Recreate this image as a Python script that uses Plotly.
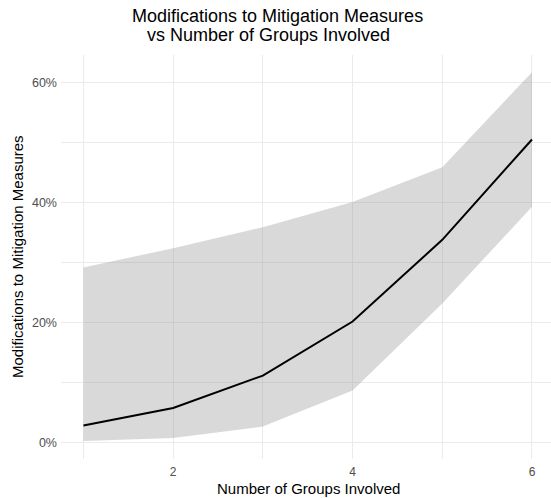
import plotly.graph_objects as go

groups = [1, 2, 3, 4, 5, 6]
mean_mod = [0.029, 0.058, 0.112, 0.202, 0.338, 0.505]
lower_mod = [0.003, 0.008, 0.027, 0.087, 0.232, 0.393]
upper_mod = [0.292, 0.324, 0.359, 0.401, 0.459, 0.617]

title_line1 = "Modifications to Mitigation Measures"
title_line2 = "vs Number of Groups Involved"
x_title = "Number of Groups Involved"
y_title = "Modifications to Mitigation Measures"

FONT = "Liberation Sans, Arial, sans-serif"
W, H = 551, 498
ML, MR, MT, MB = 61, 0, 54.5, 38.5
PW = W - ML - MR
PH = H - MT - MB

fig = go.Figure()
fig.add_trace(go.Scatter(x=groups, y=lower_mod, mode="lines",
                         line=dict(width=0), hoverinfo="skip", showlegend=False))
fig.add_trace(go.Scatter(x=groups, y=upper_mod, mode="lines", fill="tonexty",
                         fillcolor="rgba(153,153,153,0.37)",
                         line=dict(width=0), hoverinfo="skip", showlegend=False))
fig.add_trace(go.Scatter(x=groups, y=mean_mod, mode="lines",
                         line=dict(color="black", width=2), showlegend=False))

grid = "#EBEBEB"
fig.update_layout(
    width=W, height=H,
    margin=dict(l=ML, r=MR, t=MT, b=MB, autoexpand=False),
    paper_bgcolor="white", plot_bgcolor="white",
    font=dict(family=FONT, color="black"),
    xaxis=dict(range=[0.75, 6.212], tickmode="array", tickvals=[2, 4, 6],
               ticktext=["2", "4", "6"], showgrid=True, gridcolor=grid, gridwidth=1,
               minor=dict(showgrid=True, gridcolor=grid, gridwidth=0.8,
                          tickmode="array", tickvals=[1, 3, 5]),
               zeroline=False, showline=False, ticks="",
               ticklabelstandoff=4,
               tickfont=dict(size=12, color="#4D4D4D", family=FONT)),
    yaxis=dict(range=[-0.0269, 0.6457], tickmode="array",
               tickvals=[0, 0.2, 0.4, 0.6], ticktext=["0%", "20%", "40%", "60%"],
               showgrid=True, gridcolor=grid, gridwidth=1,
               minor=dict(showgrid=True, gridcolor=grid, gridwidth=0.8,
                          tickmode="array", tickvals=[0.1, 0.3, 0.5]),
               zeroline=False, showline=False, ticks="",
               ticklabelstandoff=3,
               tickfont=dict(size=12.5, color="#4D4D4D", family=FONT)),
    annotations=[
        dict(text=title_line1, xref="paper", yref="paper",
             x=(277.6 - ML) / PW, y=1 + (MT - 15.0) / PH,
             xanchor="center", yanchor="middle", showarrow=False,
             font=dict(size=18, color="black", family=FONT)),
        dict(text=title_line2, xref="paper", yref="paper",
             x=(268.4 - ML) / PW, y=1 + (MT - 34.0) / PH,
             xanchor="center", yanchor="middle", showarrow=False,
             font=dict(size=18, color="black", family=FONT)),
        dict(text=x_title, xref="paper", yref="paper",
             x=(308 - ML) / PW, y=0, yshift=-29.5,
             xanchor="center", yanchor="middle", showarrow=False,
             font=dict(size=15, color="black", family=FONT)),
        dict(text=y_title, xref="paper", yref="paper",
             x=(17.0 - ML) / PW, y=0.5, textangle=-90,
             xanchor="center", yanchor="middle", showarrow=False,
             font=dict(size=15, color="black", family=FONT)),
    ],
)

fig.write_html("out.html")
